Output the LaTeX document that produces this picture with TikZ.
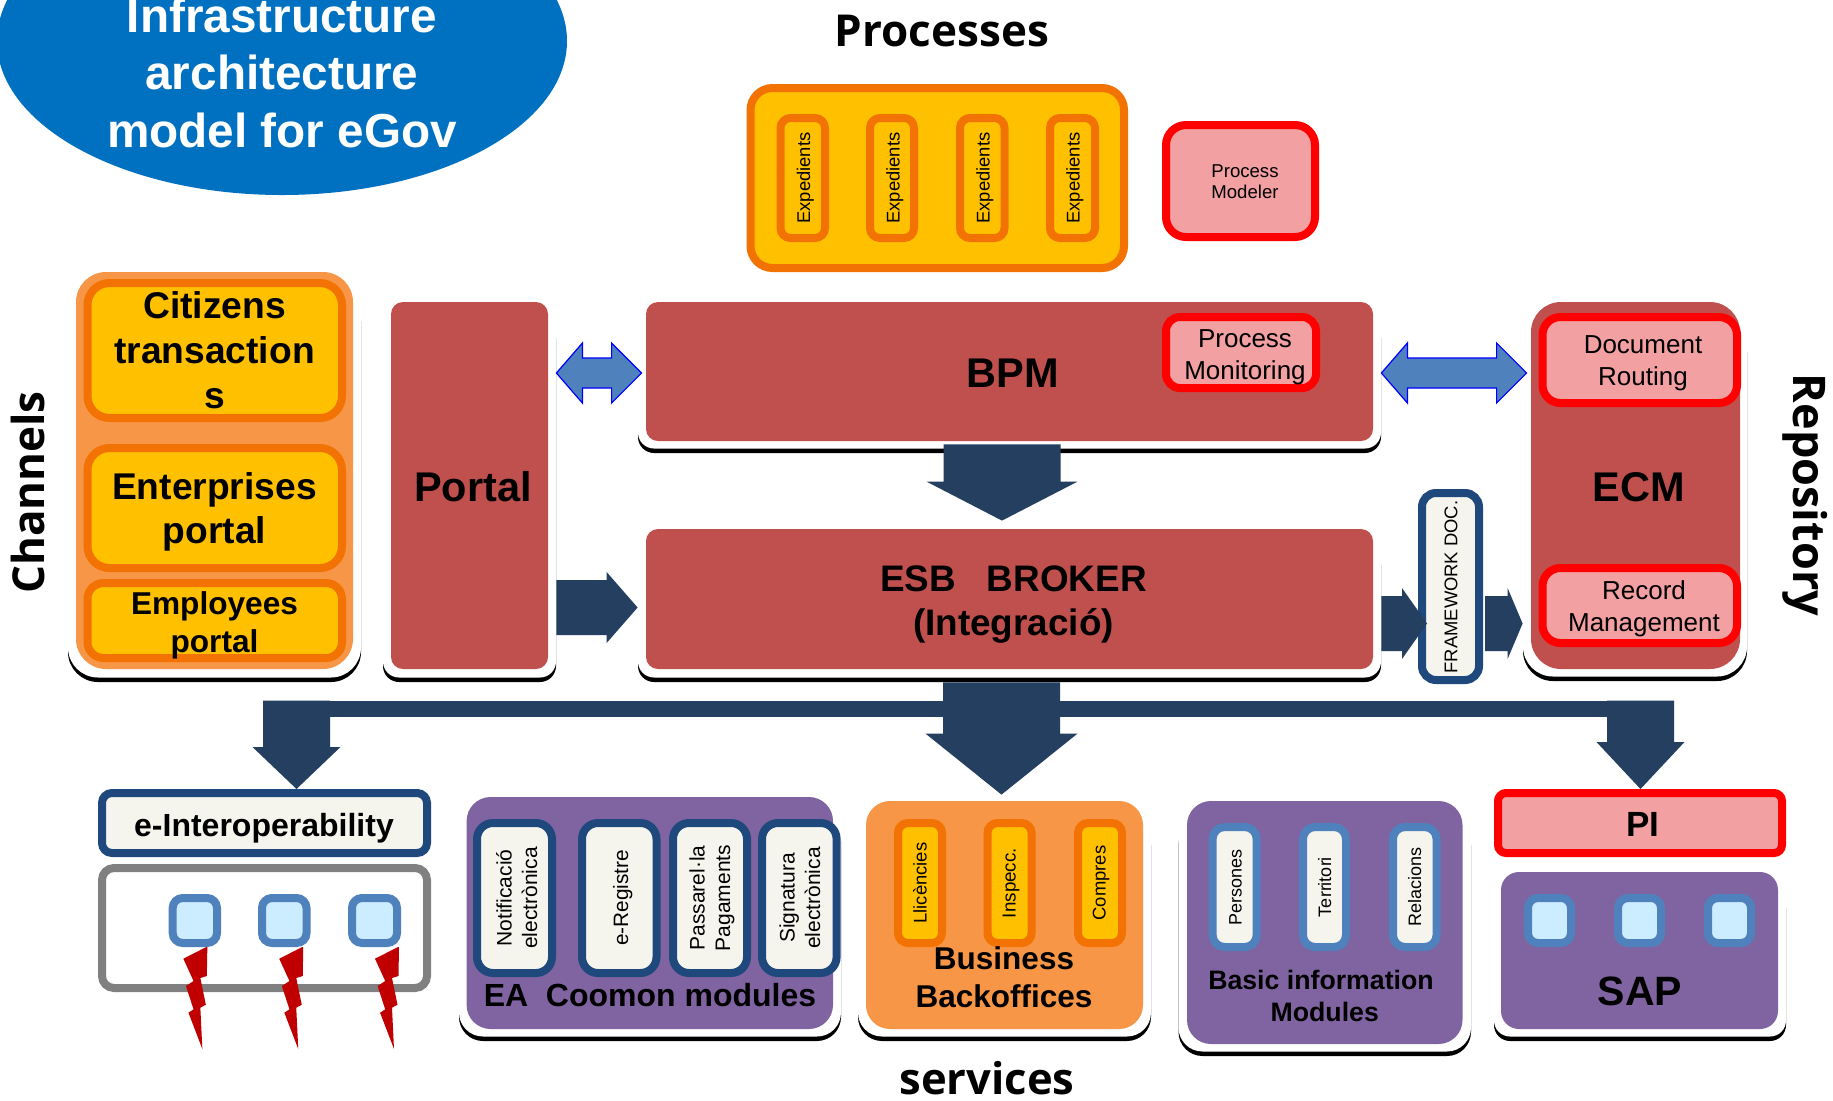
\documentclass[tikz,border=0pt]{standalone}
\usepackage{fontspec}
\usetikzlibrary{shapes.geometric,calc}
\setmainfont{Liberation Sans}
\newfontfamily\hfont{Open Sans}
\definecolor{panelor}{HTML}{F79646}
\definecolor{stror}{HTML}{F27304}
\definecolor{gold}{HTML}{FFC000}
\definecolor{brick}{HTML}{C0504D}
\definecolor{pink}{HTML}{F2A0A2}
\definecolor{purp}{HTML}{8064A2}
\definecolor{paper}{HTML}{F5F5EE}
\definecolor{deepb}{HTML}{1F497D}
\definecolor{navy}{HTML}{243F60}
\definecolor{midb}{HTML}{4F81BD}
\definecolor{pale}{HTML}{CCECFF}
\definecolor{titleb}{HTML}{0070C0}
\definecolor{boltr}{HTML}{C00000}
\tikzset{
  boxs/.style={rectangle,inner sep=0pt,line width=4pt},
  goldbox/.style={boxs,draw=stror,fill=gold,rounded corners=#1},
  goldbox/.default=5pt,
  redbox/.style={boxs,draw=red,fill=pink,rounded corners=#1},
  redbox/.default=10pt,
  paperbox/.style={boxs,draw=deepb,fill=paper,rounded corners=#1},
  paperbox/.default=8pt,
  bluebox/.style={boxs,draw=midb,fill=paper,rounded corners=6pt},
  tinybox/.style={boxs,draw=midb,fill=pale,rounded corners=5pt},
  graybox/.style={boxs,draw=black!50,fill=white,rounded corners=6pt},
  flat/.style={rectangle,inner sep=0pt,fill=#1},
  lab/.style={anchor=base,align=center,inner sep=0pt,text=black,font=\fontsize{\tsz pt}{\tgp pt}\selectfont},
  bld/.style={font=\bfseries\fontsize{\tsz pt}{\tgp pt}\selectfont},
  head/.style={font=\hfont\bfseries\fontsize{\tsz pt}{\tgp pt}\selectfont},
  block/.style={fill=navy},
  twin/.style={fill=midb,draw=blue,line width=0.6pt,line join=miter},
  boltshape/.style={fill=boltr}
}
% stroked box given by its outer edges (pixels)
\newcommand{\bx}[6]{%
  \pgfmathsetmacro\bw{(#5-#3-8)*0.5}\pgfmathsetmacro\bh{(#6-#4-8)*0.5}%
  \node[#1,minimum width=\bw pt,minimum height=\bh pt] (#2) at ({(#3+#5)/2},{(#4+#6)/2}) {};}
% unstroked panel
\newcommand{\pn}[7]{%
  \pgfmathsetmacro\bw{(#5-(#3))*0.5}\pgfmathsetmacro\bh{(#6-(#4))*0.5}%
  \node[flat=#1,rounded corners=#7,minimum width=\bw pt,minimum height=\bh pt] (#2) at ({(#3+#5)/2},{(#4+#6)/2}) {};}
% white plate with a black rim at the bottom
\newcommand{\plate}[6]{%
  \pn{black}{#1S}{#2}{(#3+20)}{#4}{#5}{#6}%
  \pn{white}{#1W}{#2}{#3}{#4}{(#5-4.5)}{#6}}
% label: [opts]{name}{x}{baseline y of the last line}{size px}{line gap px}{text}
\newcommand{\tx}[7][]{%
  \pgfmathsetmacro\tsz{#5*0.5}\pgfmathsetmacro\tgp{#6*0.5}%
  \node[lab,#1] (#2) at (#3,#4) {#7};}
% horizontal block arrow: start, tip, half shaft, half head, head length
\newcommand{\harrow}[5]{%
  \fill[block] ([shift={(0,-#3)}]#1) -- ([shift={(-#5,-#3)}]#2) -- ([shift={(-#5,-#4)}]#2) -- (#2)
    -- ([shift={(-#5,#4)}]#2) -- ([shift={(-#5,#3)}]#2) -- ([shift={(0,#3)}]#1) -- cycle;}
% downward block arrow
\newcommand{\varrow}[5]{%
  \fill[block] ([shift={(-#3,0)}]#1) -- ([shift={(-#3,-#5)}]#2) -- ([shift={(-#4,-#5)}]#2) -- (#2)
    -- ([shift={(#4,-#5)}]#2) -- ([shift={(#3,-#5)}]#2) -- ([shift={(#3,0)}]#1) -- cycle;}
% two-headed arrow
\newcommand{\twin}[2]{%
  \draw[twin] (#1) -- ([shift={(26,-30)}]#1) -- ([shift={(26,-15)}]#1) -- ([shift={(-30,-15)}]#2) -- ([shift={(-30,-30)}]#2) -- (#2)
    -- ([shift={(-30,30)}]#2) -- ([shift={(-30,15)}]#2) -- ([shift={(26,15)}]#1) -- ([shift={(26,30)}]#1) -- cycle;}
% lightning bolt hanging from a small box
\newcommand{\bolt}[2]{%
  \fill[boltshape] ([shift={(#2,0)}]#1) -- ++(-23,11.7) -- ++(10.2,22.3) -- ++(-7.6,5) -- ++(7.6,23.3) -- ++(-5.1,3.4) -- ++(13.9,36.3)
    -- ++(-2,-41.3) -- ++(5.5,-3) -- ++(-5.5,-26.7) -- ++(6.5,-2) -- ++(0.5,-29) -- cycle;}
\begin{document}
\begin{tikzpicture}[x=0.5pt,y=-0.5pt]
\clip (0,0) rectangle (1833,1100);
\fill[white] (0,0) rectangle (1833,1100);

% title
\node[ellipse,fill=titleb,inner sep=0pt,minimum width=285pt,minimum height=154pt] (titleshape) at (282,41) {};
\tx[bld,text=white]{title}{282}{147}{47.7}{57.5}{Infrastructure\\architecture\\model for eGov}

% side and section captions
\tx[head]{processes}{942}{46}{44}{50}{Processes}
\tx[head,rotate=90]{channels}{45}{492.5}{44}{50}{Channels}
\tx[head,rotate=-90]{repository}{1793}{495}{45}{50}{Repository}
\tx[head]{services}{987}{1094}{43.6}{50}{services}

% plates
\plate{chan}{68}{272}{361}{682}{15pt}
\plate{portal}{383}{302}{556}{682}{8pt}
\plate{bpm}{638}{302}{1381}{453}{8pt}
\plate{esb}{638}{529}{1381}{682}{8pt}
\plate{ecm}{1523}{302}{1747}{681}{15pt}
\plate{ea}{459}{797}{841}{1041}{12pt}
\plate{biz}{858}{801}{1151}{1041}{12pt}
\plate{basic}{1178.5}{801}{1471}{1056}{12pt}
\plate{sap}{1494}{872}{1786}{1041}{8pt}

% processes
\bx{goldbox=11pt}{procs}{746.5}{84}{1128}{272}
\bx{goldbox}{ex1}{776.5}{114}{829}{242}
\bx{goldbox}{ex2}{866}{114}{918}{242}
\bx{goldbox}{ex3}{956}{114}{1008.5}{242}
\bx{goldbox}{ex4}{1046}{114}{1099}{242}
\tx[rotate=90]{ext1}{810}{178}{18.4}{20}{Expedients}
\tx[rotate=90]{ext2}{899.5}{178}{18.4}{20}{Expedients}
\tx[rotate=90]{ext3}{989.5}{178}{18.4}{20}{Expedients}
\tx[rotate=90]{ext4}{1079.5}{178}{18.4}{20}{Expedients}
\bx{redbox}{modeler}{1162}{121}{1319}{241}
\tx{modelert}{1245}{198.5}{18.6}{21}{Process\\Modeler}

% channels
\pn{panelor}{chanp}{76}{272}{353}{669}{15pt}
\bx{goldbox=11pt}{citizens}{83.5}{279}{346}{422}
\bx{goldbox=11pt}{enterprises}{83.5}{444}{346}{572}
\bx{goldbox=8pt}{employees}{83.5}{579}{346}{662}
\tx[bld]{citizenst}{214.5}{408.5}{37.2}{45}{Citizens\\transaction\\s}
\tx[bld]{enterpt}{214.5}{543.5}{37.2}{44}{Enterprises\\portal}
\tx[bld]{employt}{214.5}{652}{31.6}{38}{Employees\\portal}

% portal
\pn{brick}{portal}{391}{302}{548}{669}{6pt}
\tx[bld]{portalt}{473}{501}{41.5}{45}{Portal}

% BPM
\pn{brick}{bpm}{646}{302}{1373}{441}{6pt}
\tx[bld]{bpmt}{1013}{387.5}{41.5}{45}{BPM}
\bx{redbox=7pt}{monitor}{1162}{313}{1320}{392}
\tx{monitort}{1245}{379}{26}{32}{Process\\Monitoring}

% ESB
\pn{brick}{esb}{646}{529}{1373}{669}{6pt}
\tx[bld]{esbt}{1013.5}{635}{36.9}{44}{ESB\ \ \ BROKER\\(Integració)}

% ECM
\pn{brick}{ecm}{1531}{302}{1740}{669}{15pt}
\tx[bld]{ecmt}{1639}{501}{41.5}{45}{ECM}
\bx{redbox=9pt}{docrout}{1538.5}{313}{1741}{407}
\tx{docroutt}{1643}{385}{26}{32}{Document\\Routing}
\bx{redbox=9pt}{recman}{1538.5}{564}{1741}{647}
\tx{recmant}{1644}{631}{26}{32}{Record\\Management}

% framework
\bx{paperbox=7pt}{frame}{1418}{489}{1483}{684}
\tx[rotate=90]{framet}{1457.4}{587}{18.4}{20}{FRAMEWORK DOC.}

% horizontal arrows
\coordinate (a1s) at (portalS.east |- 0,607.5);
\coordinate (a1t) at (esbS.west |- 0,607.5);
\harrow{a1s}{a1t}{27.5}{35.5}{31}
\coordinate (a2s) at (esbS.east |- 0,623.5);
\coordinate (a2x) at ([xshift=4.5pt]frame.west);
\coordinate (a2t) at (a2x |- 0,623.5);
\harrow{a2s}{a2t}{27.5}{35.5}{25}
\coordinate (a3x) at ([xshift=1pt]frame.east);
\coordinate (a3s) at (a3x |- 0,623.5);
\coordinate (a3t) at (ecmS.west |- 0,623.5);
\harrow{a3s}{a3t}{27.5}{35.5}{15}
\coordinate (d1s) at (portalS.east |- 0,373);
\coordinate (d1x) at ([xshift=2pt]bpmS.west);
\coordinate (d1t) at (d1x |- 0,373);
\twin{d1s}{d1t}
\coordinate (d2s) at (bpmS.east |- 0,373);
\coordinate (d2x) at ([xshift=2pt]ecmS.west);
\coordinate (d2t) at (d2x |- 0,373);
\twin{d2s}{d2t}

% BPM to ESB
\coordinate (v1x) at ([yshift=-1.5pt]bpm.south);
\coordinate (v1s) at (1002,0 |- v1x);
\coordinate (v1y) at ([yshift=4pt]esb.north);
\coordinate (v1t) at (1002,0 |- v1y);
\varrow{v1s}{v1t}{58.5}{75.5}{39}

% bottom row
\bx{paperbox=5pt}{interop}{98}{789}{431}{857}
\tx[bld]{interopt}{264}{836}{32}{36}{e-Interoperability}
\bx{graybox}{external}{98}{864}{431}{992}
\bx{tinybox}{ib1}{168.7}{894}{221}{947}
\bx{tinybox}{ib2}{258}{894}{310.5}{947}
\bx{tinybox}{ib3}{348}{894}{401}{947}

\pn{purp}{eap}{466.6}{797}{833}{1029}{12pt}
\bx{paperbox}{ea1}{473}{819}{556}{977}
\bx{paperbox}{ea2}{578}{819}{660.5}{977}
\bx{paperbox}{ea3}{669}{819}{751}{977}
\bx{paperbox}{ea4}{758}{819}{840.6}{977}
\tx[rotate=90]{ea1t}{537}{898}{21}{25.5}{Notificació\\electrònica}
\tx[rotate=90]{ea2t}{628}{898}{20.8}{25.5}{e-Registre}
\tx[rotate=90]{ea3t}{730}{898}{21}{25.5}{Passarel·la\\Pagaments}
\tx[rotate=90]{ea4t}{820}{898}{21}{25.5}{Signatura\\electrònica}
\tx[bld]{eat}{650}{1006}{32}{36}{EA\ \ Coomon modules}

\pn{panelor}{bizp}{866}{801}{1143}{1029}{12pt}
\bx{goldbox}{bz1}{894}{819}{946}{947}
\bx{goldbox}{bz2}{983.5}{819}{1035.6}{947}
\bx{goldbox}{bz3}{1074}{819}{1126}{947}
\tx[rotate=90]{bz1t}{926.5}{883}{18.4}{20}{Llicències}
\tx[rotate=90]{bz2t}{1015.5}{883}{18.8}{20}{Inspecc.}
\tx[rotate=90]{bz3t}{1105.5}{883}{18.4}{20}{Compres}
\tx[bld]{bizt}{1004}{1007}{31.5}{38}{Business\\Backoffices}

\pn{purp}{basicp}{1187}{801}{1462.5}{1044}{12pt}
\bx{bluebox}{bs1}{1208.6}{823}{1260.7}{951}
\bx{bluebox}{bs2}{1299}{823}{1350}{951}
\bx{bluebox}{bs3}{1389}{823}{1440.6}{951}
\tx[rotate=90]{bs1t}{1241.5}{887}{18}{20}{Persones}
\tx[rotate=90]{bs2t}{1331}{887}{18}{20}{Territori}
\tx[rotate=90]{bs3t}{1421}{887}{18}{20}{Relacions}
\tx[bld]{basict}{1321}{1021}{26.7}{32}{Basic information\\\ Modules}

\bx{redbox=4pt}{pi}{1494}{789}{1786}{857}
\tx[bld]{pit}{1643}{836}{35}{40}{PI}
\pn{purp}{sapp}{1501}{872}{1778}{1029}{9pt}
\bx{tinybox}{sb1}{1524}{894}{1575}{947}
\bx{tinybox}{sb2}{1614}{894}{1665}{947}
\bx{tinybox}{sb3}{1704}{894}{1755}{947}
\tx[bld]{sapt}{1640}{1005}{41}{45}{SAP}

% bus and its arrows
\node[flat=navy,minimum width=638.5pt,minimum height=8pt] (bus) at (968.5,709) {};
\coordinate (b1s) at (296.5,0 |- bus.north);
\coordinate (b1t) at (296.5,0 |- interop.north);
\varrow{b1s}{b1t}{33.5}{44}{42}
\coordinate (b2s) at (1001.5,0 |- esbS.south);
\coordinate (b2x) at ([yshift=3pt]bizp.north);
\coordinate (b2t) at (1001.5,0 |- b2x);
\varrow{b2s}{b2t}{58.5}{76}{61}
\coordinate (b3s) at (1640.5,0 |- bus.north);
\coordinate (b3t) at (1640.5,0 |- pi.north);
\varrow{b3s}{b3t}{33.5}{44}{47}

% bolts
\bolt{ib1.south}{11.5}
\bolt{ib2.south}{18}
\bolt{ib3.south}{23.5}
\end{tikzpicture}
\end{document}
